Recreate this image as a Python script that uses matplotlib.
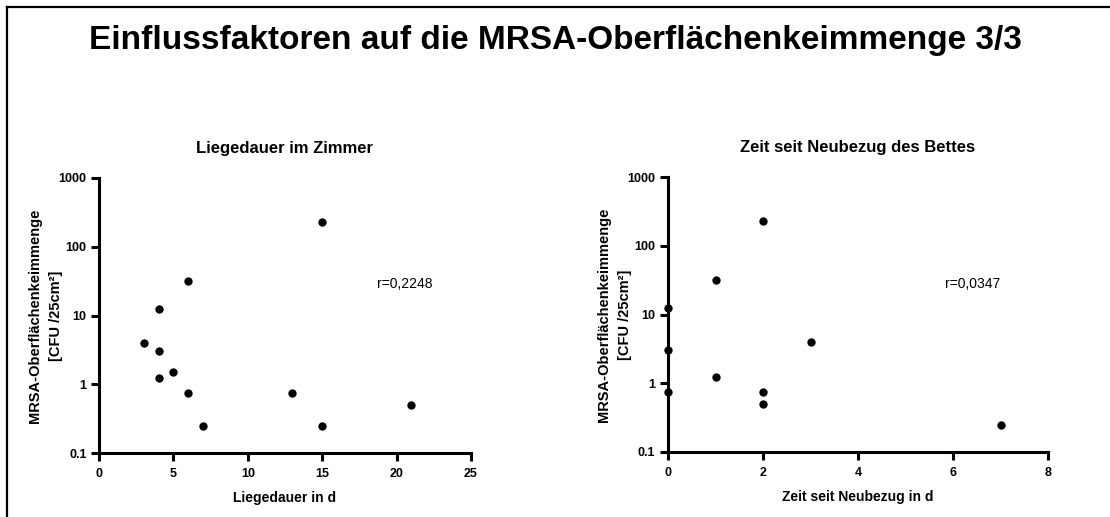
import matplotlib
matplotlib.use("Agg")
import matplotlib.pyplot as plt
from matplotlib.lines import Line2D

plt.rcParams['font.family'] = ['Liberation Sans', 'DejaVu Sans']

main_title = "Einflussfaktoren auf die MRSA-Oberflächenkeimmenge 3/3"
ylabel = "MRSA-Oberflächenkeimmenge\n[CFU /25cm²]"

# Panel 1: Liegedauer im Zimmer
p1_title = "Liegedauer im Zimmer"
p1_xlabel = "Liegedauer in d"
p1_x = [15, 6, 4, 3, 4, 5, 4, 6, 13, 21, 7, 15]
p1_y = [230, 32, 12.5, 4, 3, 1.5, 1.25, 0.75, 0.75, 0.5, 0.25, 0.25]
p1_r = "r=0,2248"
p1_xticks = [0, 5, 10, 15, 20, 25]

# Panel 2: Zeit seit Neubezug des Bettes
p2_title = "Zeit seit Neubezug des Bettes"
p2_xlabel = "Zeit seit Neubezug in d"
p2_x = [2, 1, 0, 3, 0, 1, 0, 2, 2, 7]
p2_y = [230, 32, 12.5, 4, 3, 1.25, 0.75, 0.75, 0.5, 0.25]
p2_r = "r=0,0347"
p2_xticks = [0, 2, 4, 6, 8]

yticks = [0.1, 1, 10, 100, 1000]
ytick_labels = ["0.1", "1", "10", "100", "1000"]

W, H = 1110, 517
fig = plt.figure(figsize=(W / 100, H / 100), dpi=100)
fig.patch.set_facecolor("white")

# frame lines
fig.add_artist(Line2D([6.5 / W, 1.0], [1 - 6.5 / H, 1 - 6.5 / H], transform=fig.transFigure, color="black", lw=1.6))
fig.add_artist(Line2D([6.5 / W, 6.5 / W], [0.0, 1 - 6.5 / H], transform=fig.transFigure, color="black", lw=1.6))

fig.text(555 / W, 1 - 41 / H, main_title, ha="center", va="center", fontsize=24, fontweight="bold")


def panel(rect, xs, ys, title, xlabel, xticks, rtext, rpos):
    l, r, t, b = rect
    ax = fig.add_axes([l / W, 1 - b / H, (r - l) / W, (b - t) / H])
    ax.scatter(xs, ys, s=36, color="black", zorder=3, clip_on=False, linewidths=0)
    ax.set_yscale("log")
    ax.set_ylim(0.1, 1000)
    ax.set_xlim(xticks[0], xticks[-1])
    ax.set_yticks(yticks)
    ax.set_yticklabels(ytick_labels)
    ax.yaxis.set_minor_locator(matplotlib.ticker.NullLocator())
    ax.set_xticks(xticks)
    ax.set_xticklabels([str(v) for v in xticks])
    for s in ["top", "right"]:
        ax.spines[s].set_visible(False)
    for s in ["left", "bottom"]:
        ax.spines[s].set_linewidth(2.2)
    ax.tick_params(width=2.2, length=6, labelsize=9, direction="out", pad=3)
    ax.tick_params(axis="x", pad=5)
    for lab in ax.get_xticklabels() + ax.get_yticklabels():
        lab.set_fontweight("bold")
    ax.set_title(title, fontsize=12, fontweight="bold", pad=18)
    ax.set_xlabel(xlabel, fontsize=10, fontweight="bold", labelpad=8)
    ax.set_ylabel(ylabel, fontsize=10.5, fontweight="bold", labelpad=-3, linespacing=1.6)
    ax.text(rpos[0], rpos[1], rtext, transform=ax.transAxes, fontsize=10, ha="left", va="center")
    return ax


panel((99, 471, 178, 453), p1_x, p1_y, p1_title, p1_xlabel, p1_xticks, p1_r,
      ((377 - 99) / (471 - 99), (453 - 284) / (453 - 178)))
panel((668, 1048, 177, 452), p2_x, p2_y, p2_title, p2_xlabel, p2_xticks, p2_r,
      ((945 - 668) / (1048 - 668), (452 - 284) / (452 - 177)))

fig.savefig("out.png", dpi=100)
